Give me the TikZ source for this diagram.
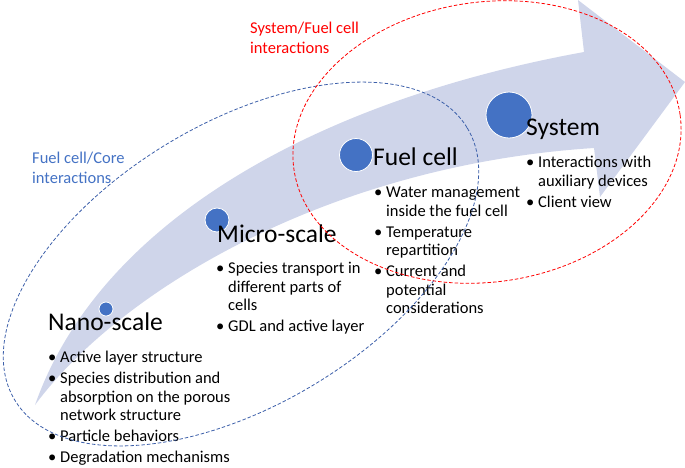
\documentclass[tikz,border=0pt]{standalone}
\usepackage{fontspec}
\setmainfont{Carlito}
\definecolor{arrowfill}{RGB}{207,213,234}
\definecolor{dotblue}{RGB}{68,114,196}
\definecolor{ringblue}{RGB}{61,96,170}
\newcommand{\bul}{\makebox[12pt][l]{\textbullet}}

\begin{document}
\begin{tikzpicture}[
  x=1pt, y=-1pt,
  dot/.style={circle, fill=dotblue, draw=white, line width=0.8pt, inner sep=0pt},
  title/.style={anchor=base west, inner sep=0pt, font=\fontsize{25.5}{30}\selectfont},
  list/.style={anchor=base west, inner sep=0pt, font=\fontsize{16.5}{18.5}\selectfont},
  label/.style={anchor=base west, inner sep=0pt, font=\fontsize{16.5}{20}\selectfont},
  ring/.style={dash pattern=on 3.5pt off 2pt, line width=0.8pt}]
\useasboundingbox (0,0) rectangle (685,467);

\fill[arrowfill] (35,405) .. controls (100,220) and (320,100) .. (584,52)
  -- (578,0) -- (685,82) -- (600,197) -- (594,148)
  .. controls (330,165) and (120,290) .. (35,405) -- cycle;

\node[dot, minimum size=14pt] (nanodot) at (106,309) {};
\node[dot, minimum size=24pt] (microdot) at (217,220) {};
\node[dot, minimum size=33pt] (fueldot) at (356,155) {};
\node[dot, minimum size=46pt] (systemdot) at (509,115) {};

\node[title] (nano) at (48,330) {Nano-scale};
\node[title] (micro) at (217,242) {Micro-scale};
\node[title] (fuel) at (373,165) {Fuel cell};
\node[title] (system) at (526,135) {System};

\node[list] (nanolist) at (48,362.5) {\begin{tabular}[t]{@{}l@{}l@{}}
  \bul & Active layer structure\\[2.5pt]
  \bul & Species distribution and\\
       & absorption on the porous\\
       & network structure\\[2.5pt]
  \bul & Particle behaviors\\[2.5pt]
  \bul & Degradation mechanisms
\end{tabular}};
\node[list] (microlist) at (216,273.5) {\begin{tabular}[t]{@{}l@{}l@{}}
  \bul & Species transport in\\
       & different parts of\\
       & cells\\[2.5pt]
  \bul & GDL and active layer
\end{tabular}};
\node[list] (fuellist) at (374,197.5) {\begin{tabular}[t]{@{}l@{}l@{}}
  \bul & Water management\\
       & inside the fuel cell\\[2.5pt]
  \bul & Temperature\\
       & repartition\\[2.5pt]
  \bul & Current and\\
       & potential\\
       & considerations
\end{tabular}};
\node[list] (systemlist) at (526,167.5) {\begin{tabular}[t]{@{}l@{}l@{}}
  \bul & Interactions with\\
       & auxiliary devices\\[2.5pt]
  \bul & Client view
\end{tabular}};

\node[label, text=red] (syslabel) at (250,33) {\begin{tabular}[t]{@{}l@{}}
  System/Fuel cell\\ interactions\end{tabular}};
\node[label, text=dotblue] (corelabel) at (32,163) {\begin{tabular}[t]{@{}l@{}}
  Fuel cell/Core\\ interactions\end{tabular}};

\draw[ring, ringblue, rotate around={31:(241,264)}] (241,264) ellipse [x radius=264, y radius=141];
\draw[ring, red, rotate around={8:(487,142)}] (487,142) ellipse [x radius=195, y radius=140];
\end{tikzpicture}
\end{document}
